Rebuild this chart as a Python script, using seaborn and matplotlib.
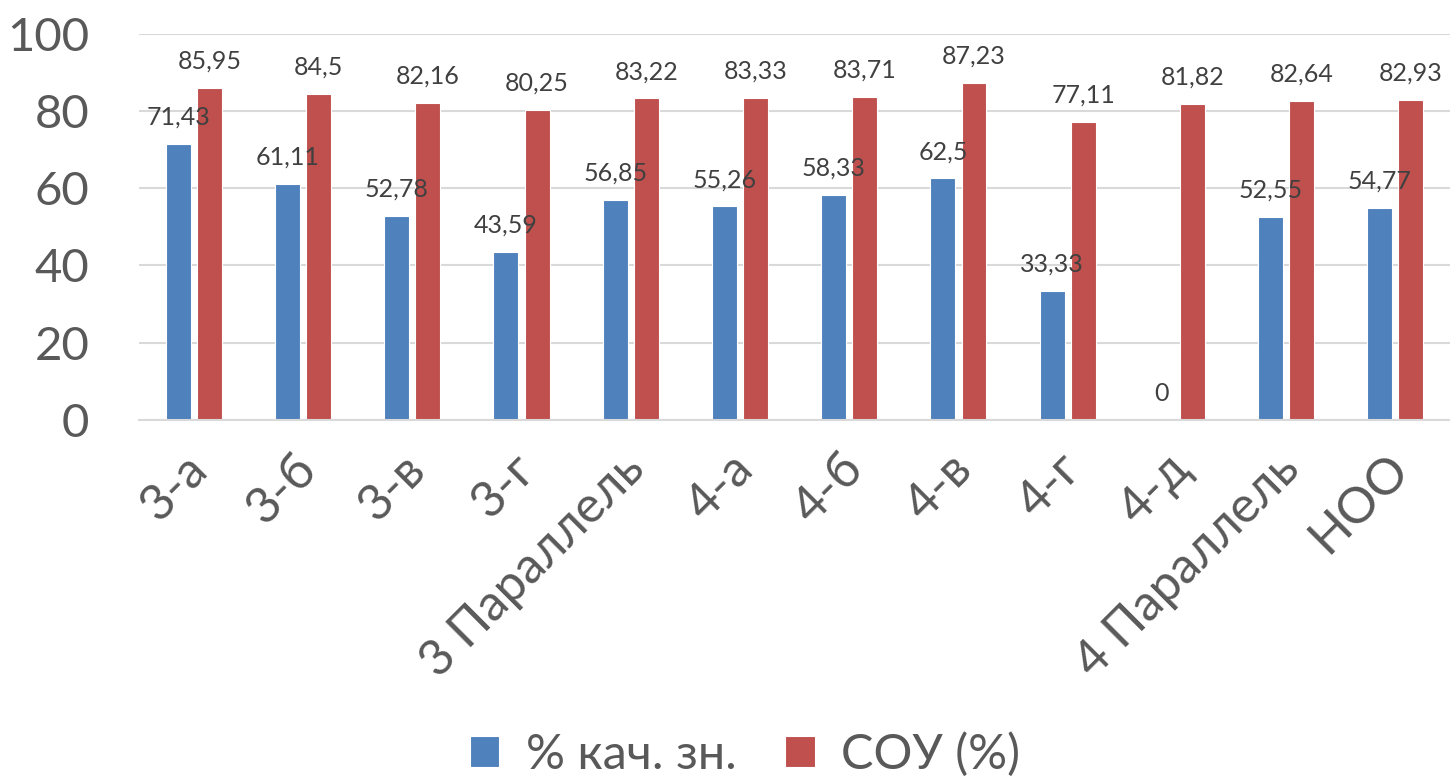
import pandas as pd
import matplotlib.pyplot as plt
import matplotlib.transforms as mtransforms
import seaborn as sns

# Data
categories = ['3-а', '3-б', '3-в', '3-г', '3 Параллель', '4-а', '4-б', '4-в',
              '4-г', '4-д', '4 Параллель', 'НОО']
quality = [71.43, 61.11, 52.78, 43.59, 56.85, 55.26, 58.33, 62.5, 33.33, 0, 52.55, 54.77]
sou = [85.95, 84.5, 82.16, 80.25, 83.22, 83.33, 83.71, 87.23, 77.11, 81.82, 82.64, 82.93]
series_names = ['% кач. зн.', 'СОУ (%)']

df = pd.DataFrame({
    'class': categories * 2,
    'value': quality + sou,
    'series': [series_names[0]] * len(categories) + [series_names[1]] * len(categories),
})

# Style
sns.set_theme(style="white")
plt.rcParams['font.family'] = ['Lato', 'DejaVu Sans']

fig = plt.figure(figsize=(14.5, 7.82), dpi=100)
ax = fig.add_axes([0.096, 0.463, 0.904, 0.494])

palette = {'% кач. зн.': '#4F81BD', 'СОУ (%)': '#C0504D'}
sns.barplot(data=df, x='class', y='value', hue='series', palette=palette,
            width=0.57, gap=0.2, ax=ax, legend=True, saturation=1,
            edgecolor='white', linewidth=0.8)

# Value labels
for container in ax.containers:
    labels = [('%g' % v).replace('.', ',') for v in container.datavalues]
    ax.bar_label(container, labels=labels, padding=11, fontsize=18, color='#404040')

ax.set_ylim(0, 100)
ax.set_yticks(range(0, 101, 20))
ax.set_xlim(-0.5, len(categories) - 0.5)
ax.yaxis.grid(True, color='#d9d9d9', linewidth=1.5)
ax.set_axisbelow(True)
for s in ['top', 'right', 'left']:
    ax.spines[s].set_visible(False)
ax.spines['bottom'].set_color('#d9d9d9')
ax.spines['bottom'].set_linewidth(1.5)

ax.set_xlabel('')
ax.set_ylabel('')
ax.tick_params(axis='y', labelsize=34, labelcolor='#595959', length=0, pad=36)
ax.tick_params(axis='x', labelsize=36, labelcolor='#595959', length=0, pad=6)
plt.setp(ax.get_xticklabels(), rotation=45, ha='right', rotation_mode='anchor')
shift = mtransforms.ScaledTranslation(-0.1, -0.17, fig.dpi_scale_trans)
for lab in ax.get_xticklabels():
    lab.set_transform(lab.get_transform() + shift)

handles, labels = ax.get_legend_handles_labels()
ax.get_legend().remove()
fig.legend(handles, labels, loc='center', bbox_to_anchor=(0.514, 0.035), ncol=2,
           frameon=False, fontsize=35, labelcolor='#595959', handlelength=0.6,
           handleheight=0.6, handletextpad=0.55, columnspacing=1.0)

plt.savefig('out.png', dpi=100)
